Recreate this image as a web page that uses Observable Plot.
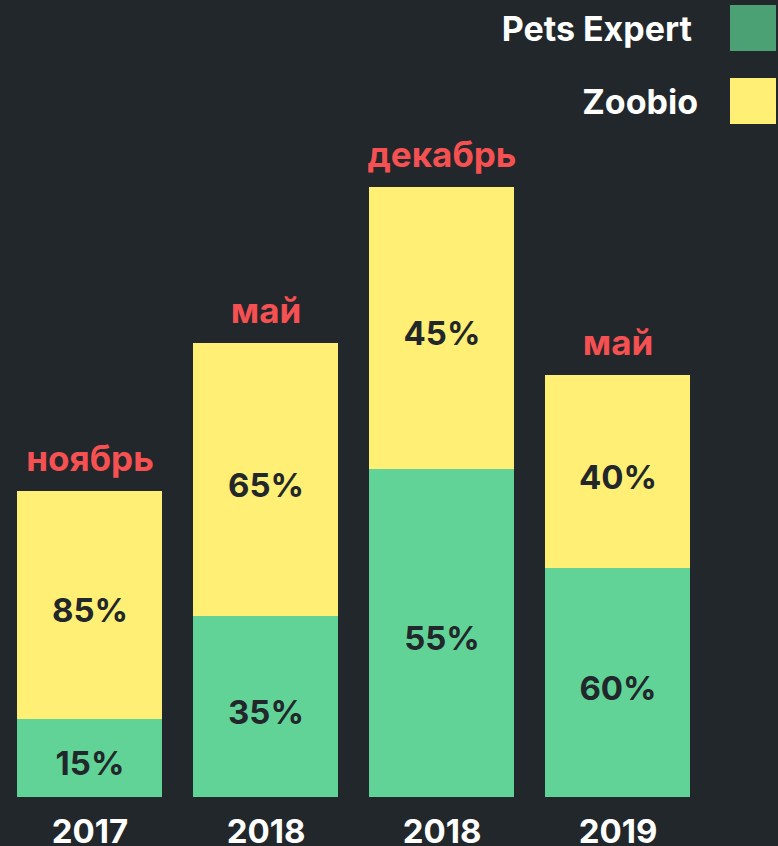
<!DOCTYPE html>
<html>
<head>
<meta charset="utf-8">
<script src="https://cdn.jsdelivr.net/npm/d3@7"></script>
<script src="https://cdn.jsdelivr.net/npm/@observablehq/plot@0.6"></script>
<style>
  html, body { margin: 0; padding: 0; background: #21272a; }
  #wrap { position: relative; width: 778px; height: 846px; overflow: hidden; background: #21272a; }
  #legend { position: absolute; right: 2px; top: 5px; font-family: Inter, Lato, sans-serif; font-weight: 700; color: #ffffff; font-size: 34px; }
  .row { display: flex; align-items: center; justify-content: flex-end; height: 46px; margin-bottom: 27px; }
  .sw { width: 46px; height: 46px; }
</style>
</head>
<body>
<div id="wrap"></div>
<script>
const periods = ["2017", "2018", "2018", "2019"];
const months = ["ноябрь", "май", "декабрь", "май"];
const seriesNames = ["Pets Expert", "Zoobio"];
const greenValues = [78, 181, 328, 229];
const yellowValues = [228, 273, 282, 193];
const greenLabels = ["15%", "35%", "55%", "60%"];
const yellowLabels = ["85%", "65%", "45%", "40%"];

const bg = "#21272a", green = "#62d397", yellow = "#fff075", red = "#f55052", legendGreen = "#4ba174";
const font = "Inter, Lato, sans-serif";

const idx = d3.range(periods.length);
const segs = [];
idx.forEach(i => {
  segs.push({i, series: seriesNames[0], y1: 0, y2: greenValues[i], label: greenLabels[i]});
  segs.push({i, series: seriesNames[1], y1: greenValues[i], y2: greenValues[i] + yellowValues[i], label: yellowLabels[i]});
});
const tops = idx.map(i => ({i, y: greenValues[i] + yellowValues[i], m: months[i]}));

const chart = Plot.plot({
  width: 778,
  height: 846,
  marginTop: 0, marginBottom: 49, marginLeft: 0, marginRight: 0,
  style: {background: bg, fontFamily: font},
  x: {type: "band", domain: idx, range: [15, 691], paddingInner: 0.178, paddingOuter: 0, axis: null},
  y: {domain: [0, 797], axis: null},
  color: {domain: seriesNames, range: [green, yellow]},
  marks: [
    Plot.rectY(segs, {x: "i", y1: "y1", y2: "y2", fill: "series"}),
    Plot.text(segs, {x: "i", y: d => (d.y1 + d.y2) / 2, text: "label", fill: bg, fontSize: 33, fontWeight: 700, lineAnchor: "middle", dy: 6}),
    Plot.text(tops, {x: "i", y: "y", text: "m", fill: red, fontSize: 35, fontWeight: 700, lineAnchor: "bottom", dy: -21}),
    Plot.text(idx, {x: d => d, y: () => 0, text: d => periods[d], fill: "#ffffff", fontSize: 33, fontWeight: 700, lineAnchor: "bottom", dy: 45})
  ]
});
const wrap = document.getElementById("wrap");
wrap.appendChild(chart);

const legend = document.createElement("div");
legend.id = "legend";
[[seriesNames[0], legendGreen, 38], [seriesNames[1], yellow, 32]].forEach(([name, c, gap]) => {
  const row = document.createElement("div");
  row.className = "row";
  const t = document.createElement("span");
  t.textContent = name;
  const s = document.createElement("div");
  s.className = "sw";
  s.style.background = c;
  s.style.marginLeft = gap + "px";
  row.appendChild(t); row.appendChild(s);
  legend.appendChild(row);
});
wrap.appendChild(legend);
</script>
</body>
</html>
